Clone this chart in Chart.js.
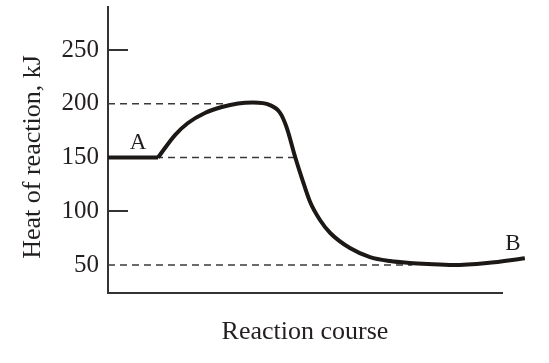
<!DOCTYPE html>
<html>
<head>
<meta charset="utf-8">
<script src="https://cdn.jsdelivr.net/npm/chart.js@4"></script>
<style>
    body { margin: 0; background: #fff; }
    #chartBox { width: 549px; height: 363px; }
</style>
</head>
<body>
<div id="chartBox"><canvas id="energyChart" width="549" height="363"></canvas></div>
<script>
// Flat start of the curve (reactants A)
const plateauX = [0, 12.7];
const plateauKJ = [150, 150];

// Rest of the reaction path, up over the hump and down to B
const courseX = [12.7, 17.0, 20.3, 24.6, 28.9, 33.0, 36.8, 41.1, 43.7, 45.4, 47.5, 49.2, 51.3, 53.8, 56.4, 61.4, 66.5, 71.6, 76.6, 81.2, 87.6, 96.2, 105.8];
const courseKJ = [150, 170.9, 182.1, 191.4, 197.0, 200.3, 201.2, 198.8, 191.4, 177.4, 150.5, 130.9, 108.6, 91.9, 79.8, 65.8, 57.4, 53.7, 51.9, 50.9, 50.0, 51.9, 56.3];

// Dashed guide lines: level and where they meet the curve
const guideLevels = [200, 150, 50];
const guideEndX = [29.7, 48.2, 77.2];

// Axis ticks
const yTickValues = [50, 100, 150, 200, 250];
const innerTickValues = [250, 100];

// Point labels
const pointLabels = ["A", "B"];
const pointLabelX = [7.6, 102.8];
const pointLabelKJ = [164, 70];

const yTitle = "Heat of reaction, kJ";
const xTitle = "Reaction course";

const inkColor = "#1c1816";
const textColor = "#231f20";
const serif = "'Liberation Serif', 'Times New Roman', serif";

function toPoints(xs, ys) {
    return xs.map((x, i) => ({ x: x, y: ys[i] }));
}

// Build the dashed guide datasets
function guideDatasets() {
    return guideLevels.map((level, i) => ({
        label: "guide " + level,
        data: [{ x: 0, y: level }, { x: guideEndX[i], y: level }],
        borderColor: "#3a3a3a",
        borderWidth: 1.6,
        borderDash: [7, 5],
        pointRadius: 0,
        order: 2
    }));
}

// Short tick marks inside the plot, the A / B labels and the y title
const extrasPlugin = {
    id: "extras",
    afterDraw(chart) {
        const ctx = chart.ctx;
        const xScale = chart.scales.x;
        const yScale = chart.scales.y;
        ctx.save();
        ctx.strokeStyle = "#333";
        ctx.lineWidth = 2;
        innerTickValues.forEach(v => {
            const y = Math.round(yScale.getPixelForValue(v));
            ctx.beginPath();
            ctx.moveTo(chart.chartArea.left, y);
            ctx.lineTo(chart.chartArea.left + 20, y);
            ctx.stroke();
        });
        ctx.fillStyle = textColor;
        ctx.font = "23px " + serif;
        ctx.textAlign = "center";
        ctx.textBaseline = "middle";
        pointLabels.forEach((t, i) => {
            ctx.fillText(t, xScale.getPixelForValue(pointLabelX[i]), yScale.getPixelForValue(pointLabelKJ[i]));
        });
        // y title, a little below the middle of the axis like the original
        ctx.font = "26px " + serif;
        ctx.translate(33, 157);
        ctx.rotate(-Math.PI / 2);
        ctx.fillText(yTitle, 0, 0);
        ctx.restore();
    }
};

const ctx = document.getElementById("energyChart").getContext("2d");
new Chart(ctx, {
    type: "line",
    data: {
        datasets: [
            {
                label: "plateau",
                data: toPoints(plateauX, plateauKJ),
                borderColor: inkColor,
                borderWidth: 4,
                pointRadius: 0,
                clip: false,
                order: 1
            },
            {
                label: "course",
                data: toPoints(courseX, courseKJ),
                borderColor: inkColor,
                borderWidth: 4,
                pointRadius: 0,
                cubicInterpolationMode: "monotone",
                borderJoinStyle: "round",
                clip: false,
                order: 1
            },
            ...guideDatasets()
        ]
    },
    options: {
        responsive: false,
        animation: false,
        layout: { padding: { top: 7, right: 47, left: 0, bottom: 0 } },
        plugins: {
            legend: { display: false },
            tooltip: { enabled: false }
        },
        scales: {
            x: {
                type: "linear",
                min: 0,
                max: 100,
                grid: { display: false, drawTicks: false },
                border: { display: true, color: "#333", width: 2 },
                ticks: { display: false },
                title: {
                    display: true,
                    text: xTitle,
                    color: textColor,
                    font: { family: serif, size: 26 },
                    padding: { top: 0, bottom: 15 }
                },
                afterFit(scale) {
                    scale.height = 70;
                    scale.paddingLeft = 0;
                    scale.paddingRight = 0;
                }
            },
            y: {
                type: "linear",
                min: 24,
                max: 290,
                grid: { display: false, drawTicks: false },
                border: { display: true, color: "#333", width: 2 },
                ticks: {
                    color: textColor,
                    font: { family: serif, size: 25 },
                    padding: 9
                },
                afterBuildTicks(scale) {
                    scale.ticks = yTickValues.map(v => ({ value: v }));
                },
                afterFit(scale) {
                    scale.width = 108;
                    scale.paddingTop = 0;
                    scale.paddingBottom = 0;
                }
            }
        }
    },
    plugins: [extrasPlugin]
});
</script>
</body>
</html>
